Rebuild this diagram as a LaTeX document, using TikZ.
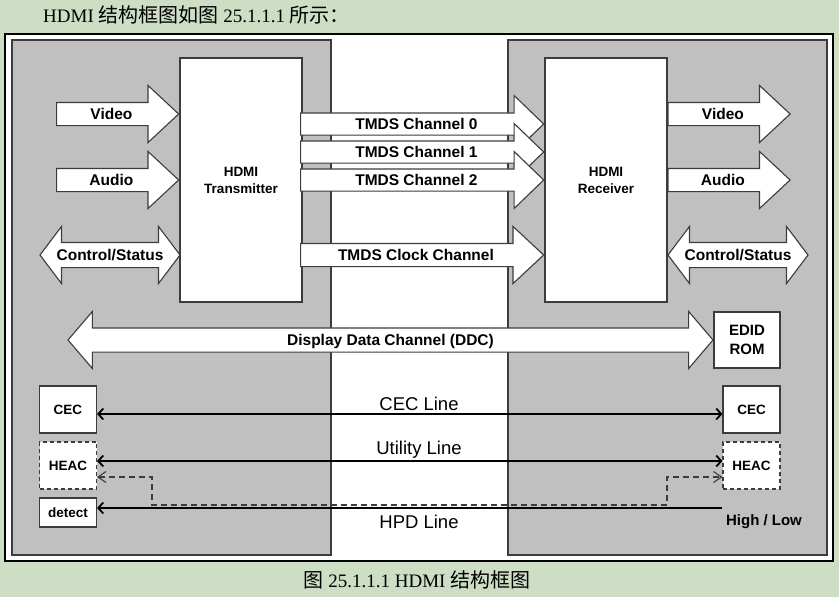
\documentclass[tikz,border=0pt]{standalone}
\usepackage{fontspec}
\setmainfont{Liberation Serif}
\setsansfont{Liberation Sans}
\newfontfamily\cjk{Noto Sans CJK SC}
\usepackage{tikz}
\usetikzlibrary{arrows.meta,calc,positioning,shapes.arrows}
\definecolor{hdmibg}{RGB}{205,222,197}
\definecolor{hdmigray}{RGB}{192,192,192}
\definecolor{hdmiline}{RGB}{60,60,60}
\newcommand{\zh}[1]{{\cjk\fontsize{20}{22}\selectfont #1}}
\tikzset{
  panel/.style={draw=hdmiline,fill=hdmigray,line width=1.1pt},
  blk/.style={draw=hdmiline,fill=white,line width=1.1pt,align=center,inner sep=0pt,
    font=\sffamily\bfseries\fontsize{13.5}{17}\selectfont},
  bigarrow/.style={single arrow,draw=hdmiline,fill=white,line width=1.1pt,
    font=\sffamily\bfseries\fontsize{15.5}{17}\selectfont,text height=11pt,text depth=0pt,
    inner xsep=2pt,inner ysep=5.5pt,single arrow head extend=17pt,single arrow tip angle=86,
    minimum height=122pt},
  tmds/.style={bigarrow,inner ysep=5pt,single arrow head extend=17.5pt,single arrow tip angle=88,
    minimum height=243pt},
  dblarrow/.style={double arrow,draw=hdmiline,fill=white,line width=1.1pt,
    font=\sffamily\bfseries\fontsize{15.5}{17}\selectfont,text height=11pt,text depth=0pt,
    inner xsep=2pt,inner ysep=6.5pt,double arrow head extend=16pt,double arrow tip angle=106},
  lbl/.style={inner sep=0pt,font=\sffamily\mdseries\fontsize{18.5}{20}\selectfont},
  sig/.style={line width=1.8pt},
  hdmidash/.style={draw=hdmiline,line width=1.1pt,dash pattern=on 6pt off 4pt,
    {Straight Barb[length=8pt,width=11pt]}-{Straight Barb[length=8pt,width=11pt]}}
}
\begin{document}
\begin{tikzpicture}[x=1pt,y=-1pt,font=\sffamily\bfseries,>={Straight Barb[length=5pt,width=11pt]}]
\fill[hdmibg] (0,0) rectangle (839,597);
\useasboundingbox (0,0) rectangle (839,597);
\node[anchor=west,inner sep=0pt,font=\rmfamily\mdseries\fontsize{19}{21}\selectfont] (intro) at (43,15)
  {HDMI \zh{结构框图如图} 25.1.1.1 \zh{所示：}};
\draw[line width=1.4pt,fill=white] (5,34) rectangle (833,561);
\foreach \x in {12,508}
  \draw[panel] (\x,40) rectangle ++(319,515);
\node[blk,minimum width=122pt,minimum height=244pt] (tx) at (241,180) {HDMI\\Transmitter};
\node[blk,minimum width=122pt,minimum height=244pt] (rx) at (606,180) {HDMI\\Receiver};
\foreach \y/\t/\n in {114/Video/v,180/Audio/a}{
  \node[bigarrow,anchor=tip] (\n-in) at (tx.west |- 0,\y) {\t};
  \node[bigarrow,anchor=tail] (\n-out) at (rx.east |- 0,\y) {\t};}
\foreach \y/\n in {124/0,152/1,180/2}
  \node[tmds,anchor=tip] (ch\n) at (rx.west |- 0,\y) {TMDS Channel \n};
\node[tmds,inner ysep=5.5pt,single arrow head extend=17pt,single arrow tip angle=86,anchor=tip] (clk)
  at (rx.west |- 0,255) {TMDS Clock Channel};
\node[dblarrow,minimum height=140pt] (cs-in) at (110,255) {Control/Status};
\node[dblarrow,minimum height=140pt] (cs-out) at (738,255) {Control/Status};
\node[dblarrow,minimum height=645pt,inner ysep=6pt,double arrow head extend=16.5pt,
  double arrow tip angle=99] (ddc) at (390.5,340) {Display Data Channel (DDC)};
\node[blk,minimum width=66pt,minimum height=56pt,font=\sffamily\bfseries\fontsize{15}{19}\selectfont]
  (edid) at (747,340) {EDID\\ROM};
\foreach \x/\s in {68/l,751.5/r}{
  \node[blk,minimum width=57pt,minimum height=47pt] (cec\s) at (\x,409.5) {CEC};
  \node[blk,dashed,dash pattern=on 4pt off 3pt,minimum width=57pt,minimum height=47pt] (heac\s)
    at (\x,465.5) {HEAC};}
\node[blk,minimum width=57pt,minimum height=29pt] (det) at (68,512.5) {detect};
\coordinate (hpd) at (heacr.west |- 0,508);
\draw[sig,<->] (cecl.east |- 0,414) -- (cecr.west |- 0,414);
\draw[sig,<->] (heacl.east |- 0,461) -- (heacr.west |- 0,461);
\draw[hdmidash] (heacl.east |- 0,477) -| (152,505) -| (667,477) -- (heacr.west |- 0,477);
\draw[sig,->] (hpd) -- (det.east |- hpd);
\node[lbl] (cecline) at (419,404) {CEC Line};
\node[lbl] (utilline) at (419,450) {Utility Line};
\node[lbl] (hpdline) at (419,522) {HPD Line};
\node[inner sep=0pt,font=\sffamily\bfseries\fontsize{15}{17}\selectfont] (hilo) at (764,522) {High / Low};
\node[inner sep=0pt,font=\rmfamily\mdseries\fontsize{19}{21}\selectfont] (cap) at (417,580)
  {\zh{图} 25.1.1.1 HDMI \zh{结构框图}};
\end{tikzpicture}
\end{document}
